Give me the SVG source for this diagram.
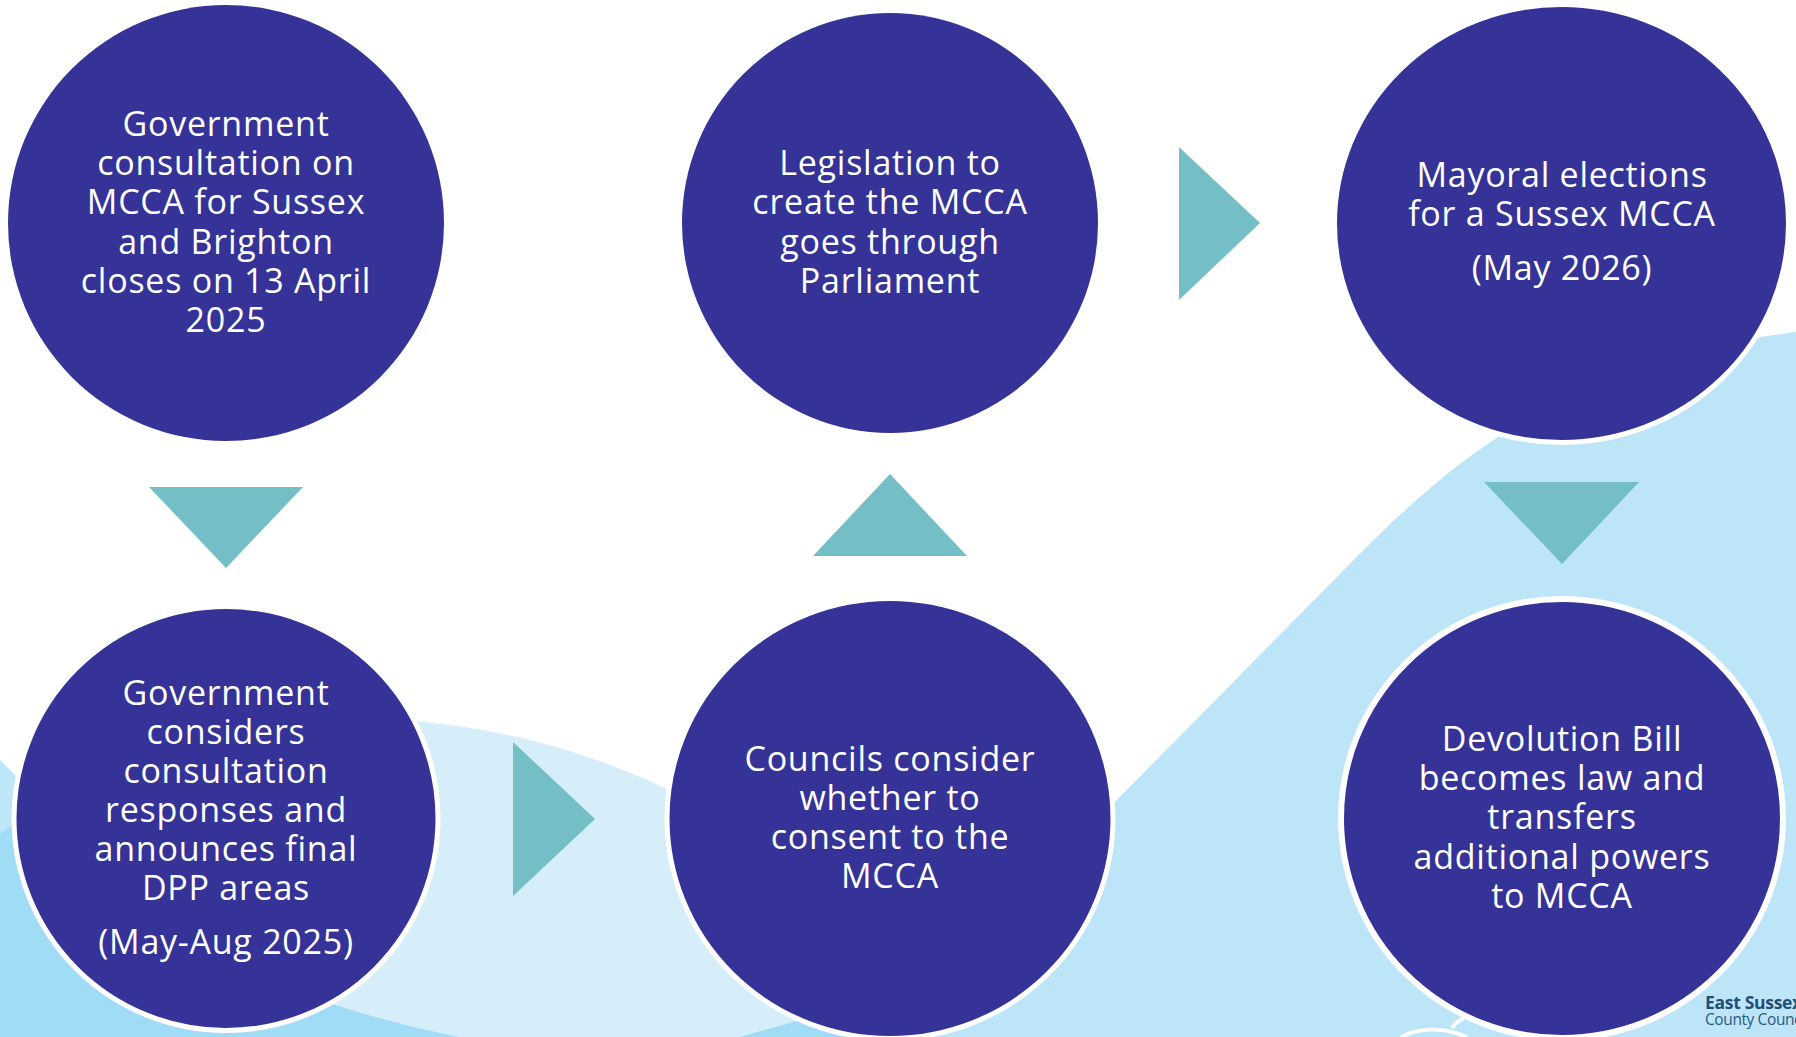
<svg xmlns="http://www.w3.org/2000/svg" width="1796" height="1037" viewBox="0 0 1796 1037">
<style>
.n{fill:#353397}
.w{stroke:#fff;stroke-width:5}
.a{fill:#74bec6}
text{font-family:"Open Sans","Noto Sans","Liberation Sans",sans-serif;font-size:34px;letter-spacing:.75px;fill:#fff;text-anchor:middle}
.l1{font-size:17.5px;font-weight:700;letter-spacing:-.3px;fill:#1f4e79;text-anchor:start}
.l2{font-size:15.5px;letter-spacing:-.4px;fill:#2b5a7f;text-anchor:start}
</style>
<rect width="1796" height="1037" fill="#fff"/>
<g id="background">
<path d="M400 720C510 728 600 755 690 800L860 1037H280V720Z" fill="#d5eefa"/>
<path d="M0 760L30 790V830L0 833Z" fill="#bde6f8"/>
<path d="M0 833L30 815H200V960L300 992C350 1012 410 1027 459 1037H0Z" fill="#a0dcf5"/>
<path d="M740 1037L793 1022L860 1000V1037Z" fill="#a0dcf5"/>
<path d="M1100 817L1336 578C1390 522 1440 475 1498 437L1760 337L1796 332V1037H860V1000Z" fill="#bde5f8"/>
<path d="M1401 1037Q1431 1022 1467 1037M1452 1028Q1456 1022 1464 1018" fill="none" stroke="#fff" stroke-width="4"/>
</g>
<g id="connectors">
<polygon class="a" points="149,487 303,487 226,568"/>
<polygon class="a" points="513,742 595,819 513,896"/>
<polygon class="a" points="813,556 967,556 890,474"/>
<polygon class="a" points="1179,147 1260,223 1179,300"/>
<polygon class="a" points="1484,482 1639,482 1562,564"/>
</g>
<g id="node1"><ellipse class="n" cx="226" cy="223" rx="218" ry="218"/>
<text x="226" y="136">Government</text><text x="226" y="175">consultation on</text><text x="226" y="214">MCCA for Sussex</text><text x="226" y="254">and Brighton</text><text x="226" y="293">closes on 13 April</text><text x="226" y="332">2025</text></g>
<g id="node2"><ellipse class="n w" cx="226" cy="818.5" rx="212" ry="212"/>
<text x="226" y="705">Government</text><text x="226" y="744">considers</text><text x="226" y="783">consultation</text><text x="226" y="822">responses and</text><text x="226" y="861">announces final</text><text x="226" y="900">DPP areas</text><text x="226" y="954">(May-Aug 2025)</text></g>
<g id="node3"><ellipse class="n" cx="890" cy="223" rx="208" ry="210"/>
<text x="890" y="175">Legislation to</text><text x="890" y="214">create the MCCA</text><text x="890" y="254">goes through</text><text x="890" y="293">Parliament</text></g>
<g id="node4"><ellipse class="n w" cx="890" cy="818.5" rx="223" ry="220"/>
<text x="890" y="771">Councils consider</text><text x="890" y="810">whether to</text><text x="890" y="849">consent to the</text><text x="890" y="888">MCCA</text></g>
<g id="node5"><ellipse class="n w" cx="1561.5" cy="223.5" rx="227" ry="219"/>
<text x="1562" y="187">Mayoral elections</text><text x="1562" y="226">for a Sussex MCCA</text><text x="1562" y="280">(May 2026)</text></g>
<g id="node6"><ellipse class="n" cx="1562" cy="818.5" rx="221" ry="219.5" stroke="#fff" stroke-width="6"/>
<text x="1562" y="751">Devolution Bill</text><text x="1562" y="790">becomes law and</text><text x="1562" y="829">transfers</text><text x="1562" y="869">additional powers</text><text x="1562" y="908">to MCCA</text></g>
<g id="logo"><text class="l1" x="1705" y="1009">East Sussex</text><text class="l2" x="1705" y="1025">County Council</text></g>
</svg>
